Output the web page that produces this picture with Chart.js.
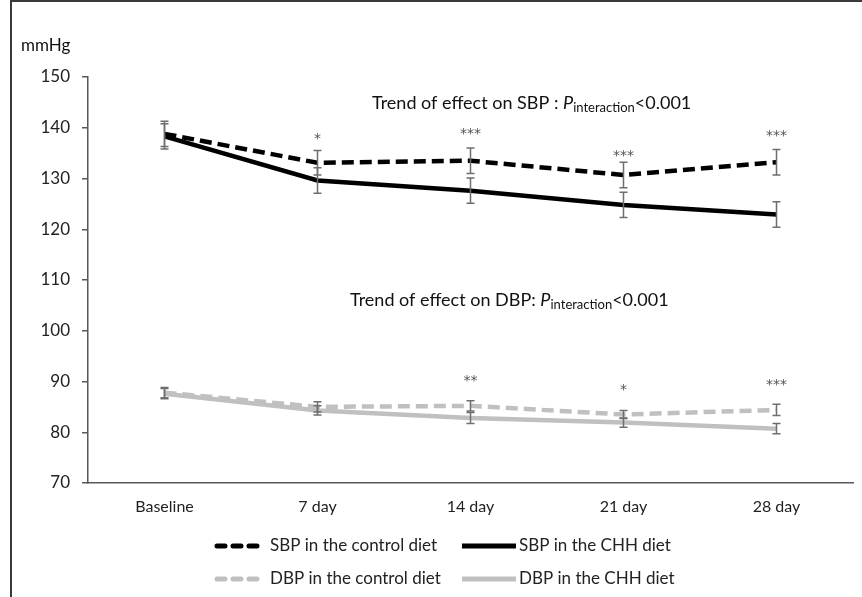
<!DOCTYPE html>
<html>
<head>
<meta charset="utf-8">
<script src="https://cdn.jsdelivr.net/npm/chart.js@4.4.1/dist/chart.umd.min.js"></script>
<style>
    html, body { margin: 0; padding: 0; background: #fff; }
    #wrap { position: relative; width: 862px; height: 597px; }
    #frame { position: absolute; left: 10px; top: 0; right: 0; bottom: 0;
             border-left: 2px solid #3a3a3a; border-top: 2px solid #3a3a3a; pointer-events: none; }
</style>
</head>
<body>
<div id="wrap">
    <canvas id="chart" width="862" height="597"></canvas>
    <div id="frame"></div>
</div>
<script>
// ── Données ─────────────────────────────────────────────
const days = ['Baseline', '7 day', '14 day', '21 day', '28 day'];
const yTicks = [70, 80, 90, 100, 110, 120, 130, 140, 150];

const sbpControl = [138.8, 133.1, 133.5, 130.7, 133.2];
const sbpControlErr = [2.5, 2.4, 2.5, 2.5, 2.5];
const sbpChh = [138.3, 129.6, 127.6, 124.8, 122.9];
const sbpChhErr = [2.5, 2.5, 2.5, 2.5, 2.5];

const dbpControl = [87.8, 85.0, 85.2, 83.5, 84.4];
const dbpControlErr = [1.0, 1.0, 1.0, 0.8, 1.1];
const dbpChh = [87.6, 84.3, 82.8, 81.9, 80.7];
const dbpChhErr = [1.0, 0.9, 1.1, 0.9, 1.0];

const sbpStars = ['', '*', '***', '***', '***'];
const sbpStarY = [null, 138.4, 139.2, 135.0, 138.8];
const dbpStars = ['', '', '**', '*', '***'];
const dbpStarY = [null, null, 90.6, 88.9, 89.8];

const FONT = 'Lato, "Noto Sans", sans-serif';

// ── Texte riche (italique + indice) ─────────────────────
function drawRich(ctx, x, y, parts) {
    let cx = x;
    parts.forEach(p => {
        const size = p.sub ? 13 : 18;
        ctx.font = (p.italic ? 'italic ' : '') + size + 'px ' + FONT;
        ctx.fillText(p.t, cx, p.sub ? y + 5 : y);
        cx += ctx.measureText(p.t).width;
    });
}

const extrasPlugin = {
    id: 'extras',
    afterDatasetsDraw(chart) {
        const { ctx, scales: { x, y } } = chart;
        ctx.save();

        // barres d'erreur
        chart.data.datasets.forEach((ds, i) => {
            const meta = chart.getDatasetMeta(i);
            ds.errors.forEach((e, j) => {
                const px = meta.data[j].x;
                const top = y.getPixelForValue(ds.data[j] + e);
                const bot = y.getPixelForValue(ds.data[j] - e);
                ctx.strokeStyle = '#6e6e6e';
                ctx.lineWidth = 1.5;
                ctx.setLineDash([]);
                ctx.beginPath();
                ctx.moveTo(px, top); ctx.lineTo(px, bot);
                ctx.moveTo(px - 4, top); ctx.lineTo(px + 4, top);
                ctx.moveTo(px - 4, bot); ctx.lineTo(px + 4, bot);
                ctx.stroke();
            });
        });

        // astérisques
        ctx.fillStyle = '#555';
        ctx.font = '14px "DejaVu Sans", sans-serif';
        ctx.textAlign = 'center';
        ctx.textBaseline = 'middle';
        const stars = (labels, vals) => labels.forEach((s, j) => {
            if (!s) return;
            ctx.fillText(s, x.getPixelForValue(j), y.getPixelForValue(vals[j]) + 3);
        });
        stars(sbpStars, sbpStarY);
        stars(dbpStars, dbpStarY);

        // titres
        ctx.fillStyle = '#111';
        ctx.textAlign = 'left';
        ctx.textBaseline = 'middle';
        drawRich(ctx, 372, 103, [
            { t: 'Trend of effect on SBP : ' },
            { t: 'P', italic: true },
            { t: 'interaction', sub: true },
            { t: '<0.001' }
        ]);
        drawRich(ctx, 350, 300, [
            { t: 'Trend of effect on DBP: ' },
            { t: 'P', italic: true },
            { t: 'interaction', sub: true },
            { t: '<0.001' }
        ]);

        ctx.font = '17px ' + FONT;
        ctx.fillText('mmHg', 21, 46);

        // légende
        const spots = [[214, 546], [462, 546], [214, 579], [462, 579]];
        chart.data.datasets.forEach((ds, i) => {
            const [lx, ly] = spots[i];
            ctx.strokeStyle = ds.borderColor;
            ctx.lineWidth = 5;
            if (ds.borderDash) {
                ctx.lineCap = 'round';
                ctx.setLineDash([8, 8]);
                ctx.beginPath(); ctx.moveTo(lx + 3, ly); ctx.lineTo(lx + 45, ly); ctx.stroke();
            } else {
                ctx.lineCap = 'butt';
                ctx.setLineDash([]);
                ctx.beginPath(); ctx.moveTo(lx, ly); ctx.lineTo(lx + 54, ly); ctx.stroke();
            }
            ctx.setLineDash([]);
            ctx.fillStyle = '#222';
            ctx.font = '17px ' + FONT;
            ctx.fillText(ds.label, ds.borderDash ? lx + 56 : lx + 57, ly);
        });
        ctx.restore();
    }
};

new Chart(document.getElementById('chart'), {
    type: 'line',
    data: {
        labels: days,
        datasets: [
            { label: 'SBP in the control diet', data: sbpControl, errors: sbpControlErr,
              borderColor: '#000', borderDash: [12, 6], borderWidth: 4.5 },
            { label: 'SBP in the CHH diet', data: sbpChh, errors: sbpChhErr,
              borderColor: '#000', borderWidth: 4.5 },
            { label: 'DBP in the control diet', data: dbpControl, errors: dbpControlErr,
              borderColor: '#c0c0c0', borderDash: [12, 6], borderWidth: 4.5 },
            { label: 'DBP in the CHH diet', data: dbpChh, errors: dbpChhErr,
              borderColor: '#c0c0c0', borderWidth: 4.5 }
        ]
    },
    options: {
        responsive: false,
        animation: false,
        layout: { padding: { left: 10, right: 9, top: 77, bottom: 0 } },
        elements: { point: { radius: 0 }, line: { tension: 0 } },
        plugins: { legend: { display: false }, tooltip: { enabled: false } },
        scales: {
            x: {
                offset: true,
                grid: { drawOnChartArea: false, drawTicks: false, offset: true },
                border: { display: true, color: '#595959', width: 1.5 },
                ticks: { color: '#222', font: { size: 16, family: FONT }, padding: 14 },
                afterFit: s => { s.height = 114; }
            },
            y: {
                min: 70, max: 150,
                afterBuildTicks: s => { s.ticks = yTicks.map(v => ({ value: v })); },
                grid: { drawOnChartArea: false, tickLength: 6, color: '#595959', lineWidth: 1.5 },
                border: { display: true, color: '#595959', width: 1.5 },
                ticks: { color: '#222', font: { size: 17, family: FONT }, padding: 12 },
                afterFit: s => { s.width = 78; }
            }
        }
    },
    plugins: [extrasPlugin]
});
</script>
</body>
</html>
